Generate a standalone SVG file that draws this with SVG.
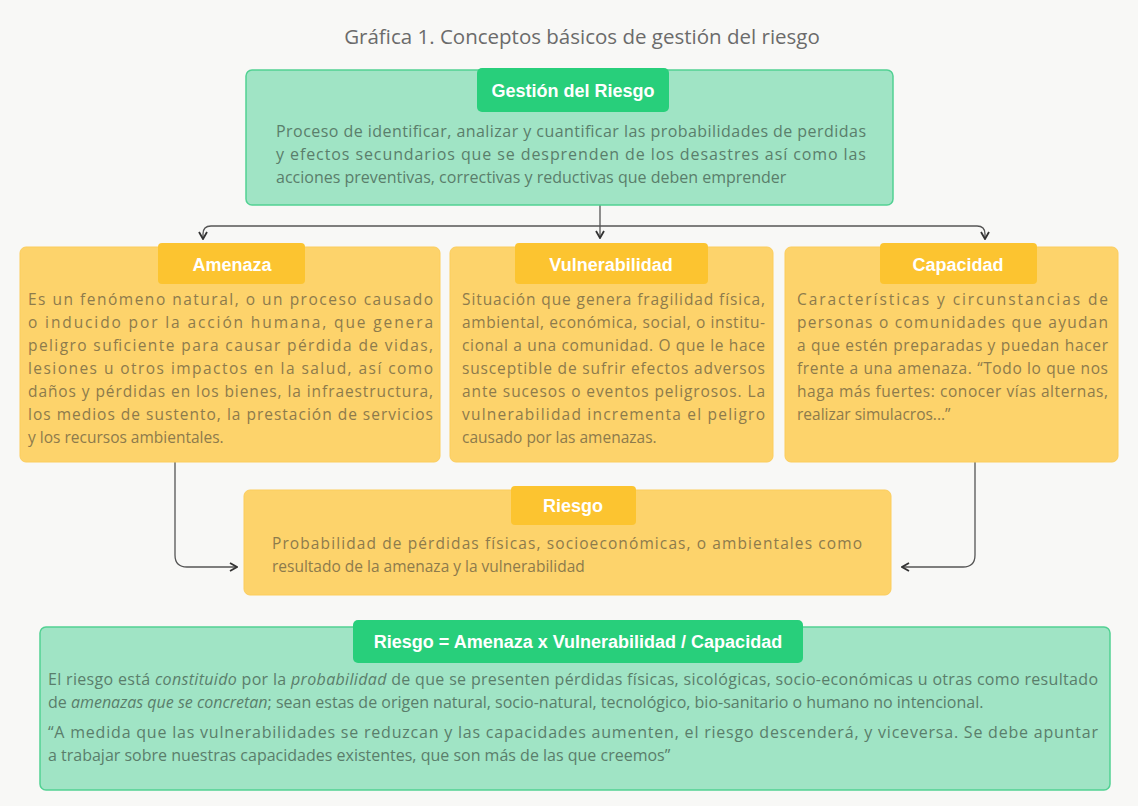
<svg xmlns="http://www.w3.org/2000/svg" width="1138" height="806" viewBox="0 0 1138 806">
<defs>
<marker id="arr" viewBox="0 0 10 10" refX="9" refY="5" markerWidth="10" markerHeight="10" markerUnits="userSpaceOnUse" orient="auto">
<path d="M2,1 L9,5 L2,9" fill="none" stroke="#333" stroke-width="1.8"/>
</marker>
<style>
.gbox{fill:#a0e4c5;stroke:#52d193;stroke-width:1.5}
.gtab{fill:#28cf7b}
.obox{fill:#fdd36b;stroke:#fccd5c;stroke-width:1}
.otab{fill:#fcc430}
.head{font-family:"Liberation Sans",Arial,sans-serif;font-weight:bold;font-size:18px;fill:#ffffff;text-anchor:middle}
.gt{font-family:"Open Sans","Liberation Sans",Arial,sans-serif;font-size:16px;fill:#5a7e6b}
.ot{font-family:"Open Sans","Liberation Sans",Arial,sans-serif;font-size:15.5px;fill:#8d7b4c}
.conn{fill:none;stroke:#555;stroke-width:1.3}
.it{font-style:italic}
</style>
</defs>
<rect width="1138" height="806" fill="#f8f8f6"/>
<text x="582" y="44" font-family="'Open Sans','Liberation Sans',Arial,sans-serif" font-size="20.5" fill="#6b6b6b" text-anchor="middle">Gráfica 1. Conceptos básicos de gestión del riesgo</text>

<g id="connectors">
<path class="conn" d="M600,205 V238" marker-end="url(#arr)"/>
<path class="conn" d="M600,226 H211 Q203,226 203,234 V239" marker-end="url(#arr)"/>
<path class="conn" d="M600,226 H977 Q985,226 985,234 V239" marker-end="url(#arr)"/>
<path class="conn" d="M175,462 V555 Q175,567 187,567 H237" marker-end="url(#arr)"/>
<path class="conn" d="M975,462 V555 Q975,567 963,567 H902" marker-end="url(#arr)"/>
</g>

<g id="gestion">
<rect class="gbox" x="246" y="70" width="647" height="135" rx="6"/>
<rect class="gtab" x="477" y="68" width="192" height="44" rx="5"/>
<text class="head" x="573" y="97">Gestión del Riesgo</text>
<text class="gt" x="276" y="137" textLength="590" lengthAdjust="spacing">Proceso de identificar, analizar y cuantificar las probabilidades de perdidas</text>
<text class="gt" x="276" y="160" textLength="590" lengthAdjust="spacing">y efectos secundarios que se desprenden de los desastres así como las</text>
<text class="gt" x="276" y="183">acciones preventivas, correctivas y reductivas que deben emprender</text>
</g>

<g id="amenaza">
<rect class="obox" x="20" y="247" width="420" height="215" rx="6"/>
<rect class="otab" x="158" y="243" width="147" height="41" rx="4"/>
<text class="head" x="232" y="271">Amenaza</text>
<text class="ot" x="28" y="305" textLength="405" lengthAdjust="spacing">Es un fenómeno natural, o un proceso causado</text>
<text class="ot" x="28" y="328" textLength="405" lengthAdjust="spacing">o inducido por la acción humana, que genera</text>
<text class="ot" x="28" y="351" textLength="405" lengthAdjust="spacing">peligro suficiente para causar pérdida de vidas,</text>
<text class="ot" x="28" y="374" textLength="405" lengthAdjust="spacing">lesiones u otros impactos en la salud, así como</text>
<text class="ot" x="28" y="397" textLength="405" lengthAdjust="spacing">daños y pérdidas en los bienes, la infraestructura,</text>
<text class="ot" x="28" y="420" textLength="405" lengthAdjust="spacing">los medios de sustento, la prestación de servicios</text>
<text class="ot" x="28" y="443">y los recursos ambientales.</text>
</g>

<g id="vulnerabilidad">
<rect class="obox" x="450" y="247" width="323" height="215" rx="6"/>
<rect class="otab" x="515" y="243" width="193" height="41" rx="4"/>
<text class="head" x="611" y="271">Vulnerabilidad</text>
<text class="ot" x="462" y="305" textLength="303" lengthAdjust="spacing">Situación que genera fragilidad física,</text>
<text class="ot" x="462" y="328" textLength="303" lengthAdjust="spacing">ambiental, económica, social, o institu-</text>
<text class="ot" x="462" y="351" textLength="303" lengthAdjust="spacing">cional a una comunidad. O que le hace</text>
<text class="ot" x="462" y="374" textLength="303" lengthAdjust="spacing">susceptible de sufrir efectos adversos</text>
<text class="ot" x="462" y="397" textLength="303" lengthAdjust="spacing">ante sucesos o eventos peligrosos. La</text>
<text class="ot" x="462" y="420" textLength="303" lengthAdjust="spacing">vulnerabilidad incrementa el peligro</text>
<text class="ot" x="462" y="443">causado por las amenazas.</text>
</g>

<g id="capacidad">
<rect class="obox" x="785" y="247" width="333" height="215" rx="6"/>
<rect class="otab" x="880" y="243" width="157" height="41" rx="4"/>
<text class="head" x="958" y="271">Capacidad</text>
<text class="ot" x="797" y="305" textLength="311" lengthAdjust="spacing">Características y circunstancias de</text>
<text class="ot" x="797" y="328" textLength="311" lengthAdjust="spacing">personas o comunidades que ayudan</text>
<text class="ot" x="797" y="351" textLength="311" lengthAdjust="spacing">a que estén preparadas y puedan hacer</text>
<text class="ot" x="797" y="374" textLength="311" lengthAdjust="spacing">frente a una amenaza. “Todo lo que nos</text>
<text class="ot" x="797" y="397" textLength="311" lengthAdjust="spacing">haga más fuertes: conocer vías alternas,</text>
<text class="ot" x="797" y="420">realizar simulacros...”</text>
</g>

<g id="riesgo">
<rect class="obox" x="244" y="490" width="647" height="105" rx="6"/>
<rect class="otab" x="511" y="486" width="125" height="39" rx="4"/>
<text class="head" x="573" y="512">Riesgo</text>
<text class="ot" x="272" y="549" textLength="590" lengthAdjust="spacing">Probabilidad de pérdidas físicas, socioeconómicas, o ambientales como</text>
<text class="ot" x="272" y="572">resultado de la amenaza y la vulnerabilidad</text>
</g>

<g id="formula">
<rect class="gbox" x="40" y="627" width="1070" height="163" rx="6"/>
<rect class="gtab" x="353" y="620" width="450" height="43" rx="5"/>
<text class="head" x="578" y="648">Riesgo = Amenaza x Vulnerabilidad / Capacidad</text>
<text class="gt" x="48" y="685" textLength="1050" lengthAdjust="spacing">El riesgo está <tspan class="it">constituido</tspan> por la <tspan class="it">probabilidad</tspan> de que se presenten pérdidas físicas, sicológicas, socio-económicas u otras como resultado</text>
<text class="gt" x="48" y="708">de <tspan class="it">amenazas que se concretan</tspan>; sean estas de origen natural, socio-natural, tecnológico, bio-sanitario o humano no intencional.</text>
<text class="gt" x="48" y="738" textLength="1050" lengthAdjust="spacing">“A medida que las vulnerabilidades se reduzcan y las capacidades aumenten, el riesgo descenderá, y viceversa. Se debe apuntar</text>
<text class="gt" x="48" y="761">a trabajar sobre nuestras capacidades existentes, que son más de las que creemos”</text>
</g>
</svg>
